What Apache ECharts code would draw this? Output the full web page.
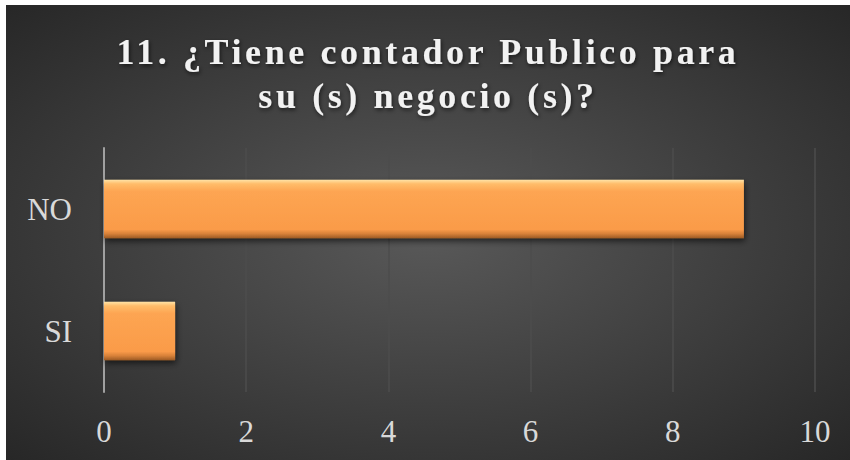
<!DOCTYPE html>
<html>
<head>
<meta charset="utf-8">
<script src="https://cdn.jsdelivr.net/npm/echarts@6/dist/echarts.min.js"></script>
<style>
html,body{margin:0;padding:0;background:#ffffff;}
#chart{position:absolute;left:6px;top:5px;width:844px;height:455px;}
#chart svg text{font-family:"Liberation Serif","Times New Roman",serif !important;}
#chart svg text[style*="bold"]{letter-spacing:3.6px;}
</style>
</head>
<body>
<div id="chart"></div>
<script>
var titleLines = ['11. ¿Tiene contador Publico para', 'su (s) negocio (s)?'];
var categories = ['SI', 'NO'];
var values = [1, 9];
var xTicks = [0, 2, 4, 6, 8, 10];

var chart = echarts.init(document.getElementById('chart'), null, {renderer: 'svg'});
var serif = 'Liberation Serif';
chart.setOption({
  animation: false,
  backgroundColor: {
    type: 'radial', x: 0.5, y: 0.5, r: 0.75,
    colorStops: [
      {offset: 0, color: '#595959'},
      {offset: 1, color: '#242424'}
    ]
  },
  title: {
    text: titleLines.join('\n'),
    left: 'center',
    top: 20,
    textStyle: {
      fontFamily: serif,
      fontWeight: 'bold',
      fontSize: 36,
      lineHeight: 44,
      color: '#f2f2f2',
      textShadowColor: 'rgba(0,0,0,0.6)',
      textShadowBlur: 4,
      textShadowOffsetX: 1,
      textShadowOffsetY: 2
    }
  },
  grid: {left: 98, right: 35, top: 143, bottom: 68, containLabel: false},
  xAxis: {
    type: 'value',
    min: xTicks[0],
    max: xTicks[xTicks.length - 1],
    interval: 2,
    axisLine: {show: false},
    axisTick: {show: false},
    splitLine: {show: true, lineStyle: {color: '#4d4d4d', width: 1.5}},
    axisLabel: {
      color: '#d9d9d9', fontFamily: serif, fontSize: 31, margin: 24
    }
  },
  yAxis: {
    type: 'category',
    data: categories,
    axisLine: {show: true, lineStyle: {color: '#a0a0a0', width: 2}},
    axisTick: {show: false},
    axisLabel: {
      color: '#d9d9d9', fontFamily: serif, fontSize: 31, margin: 32
    }
  },
  series: [{
    type: 'bar',
    data: values,
    barWidth: '48%',
    itemStyle: {
      color: {
        type: 'linear', x: 0, y: 0, x2: 0, y2: 1,
        colorStops: [
          {offset: 0, color: '#ffe4a8'},
          {offset: 0.07, color: '#ffbd6a'},
          {offset: 0.2, color: '#fda552'},
          {offset: 0.85, color: '#fa9b49'},
          {offset: 0.92, color: '#d9823a'},
          {offset: 1, color: '#9c5a24'}
        ]
      },
      shadowColor: 'rgba(0,0,0,0.6)',
      shadowBlur: 6,
      shadowOffsetX: 1,
      shadowOffsetY: 3
    }
  }]
});
</script>
</body>
</html>
